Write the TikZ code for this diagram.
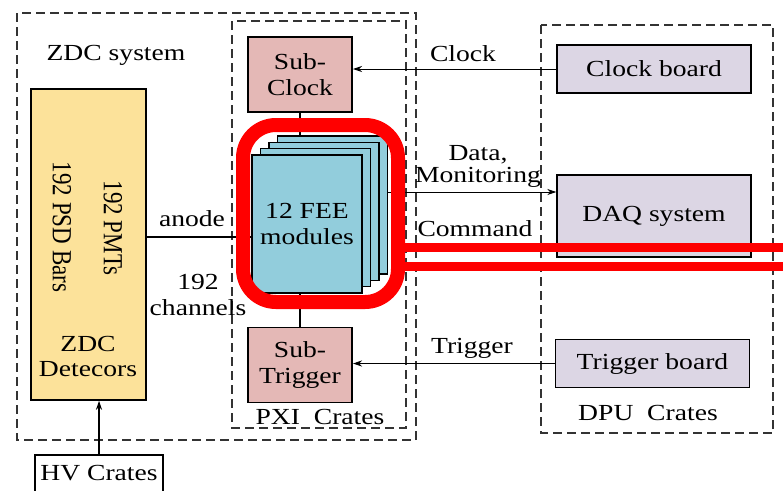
\documentclass[tikz,border=0pt]{standalone}
\usepackage{fontspec}
\setmainfont{Liberation Serif}
\usetikzlibrary{arrows.meta}

\definecolor{detyellow}{HTML}{FCE29A}
\definecolor{subpink}{HTML}{E4B8B6}
\definecolor{feecyan}{HTML}{92CDDC}
\definecolor{dpulilac}{HTML}{DCD6E4}
\definecolor{markred}{HTML}{FF0000}

\tikzstyle{group} = [draw=black!80, line width=1.2pt, dash pattern=on 9pt off 5pt]
\tikzstyle{block} = [rectangle, draw, line width=1.5pt, inner sep=0pt, align=center]
\tikzstyle{sub} = [block, fill=subpink, minimum width=86.7pt, minimum height=75pt]
\tikzstyle{board} = [block, fill=dpulilac, minimum width=161.7pt, minimum height=48pt]
\tikzstyle{fee} = [block, fill=feecyan, minimum width=91.7pt, minimum height=138pt]
\tikzstyle{wire} = [line width=1.2pt]
\tikzstyle{arrow} = [line width=1pt,->,>={Stealth[length=9pt,width=6pt]}]
\tikzstyle{redmark} = [draw=markred, line width=14pt, rounded corners=33pt]

\begin{document}
\begin{tikzpicture}[x={(0.83333pt,0pt)}, y={(0pt,-1pt)}, xscale=1.2,
  every node/.append style={transform shape}, font=\fontsize{23}{26}\selectfont]
\useasboundingbox (0,0) rectangle (783,490);

% crates
\draw [group] (17,13) rectangle (416,440);
\draw [group] (232,21) rectangle (406,428);
\draw [group] (541,25) rectangle (773,433);
\node (zdcsys) at (116,55) {ZDC system};
\node (pxi) at (320,417) {PXI\ \ Crates};
\node (dpu) at (648,413) {DPU\ \ Crates};

% detectors
\node (det) [block, fill=detyellow, minimum width=95.8pt, minimum height=311pt] at (88.5,244.5) {};
\node (psd) [rotate=-90] at (62,227) {192 PSD Bars};
\node (pmt) [rotate=-90] at (113,228) {192 PMTs};
\node (detname) [align=center, font=\fontsize{23}{25}\selectfont] at (88,356) {ZDC\\Detecors};
\node (hv) [block, line width=1.2pt, minimum width=106.7pt, minimum height=37pt] at (99,473.5) {HV Crates};

% FEE stack
\foreach \i in {3,2,1}
  \node (fee\i) [fee] at (307+8.5*\i,224-6.3*\i) {};
\node (fee) [fee] at (307,224) {12 FEE\\modules};

\node (subclk) [sub] at (300,74.5) {Sub-\\Clock};
\node (subtrg) [sub] at (300,365) {Sub-\\Trigger};

% DPU boards
\node (clkbrd) [board] at (654,69) {Clock board};
\node (daq) [board, minimum height=82pt] at (654,216) {DAQ system};
\node (trgbrd) [board] at (652.5,363.5) {Trigger board};

% links
\coordinate (datain) at ([yshift=24pt]daq.west);
\coordinate (anodeout) at ([yshift=7.5pt]det.east);
\draw [wire] (subclk.south) -- (subclk.south |- fee3.north);
\draw [wire] (subtrg.north) -- (subtrg.north |- fee.south);
\draw [arrow] (clkbrd.west) -- (clkbrd.west -| subclk.east);
\draw [arrow] (trgbrd.west) -- (trgbrd.west -| subtrg.east);
\draw [arrow] (datain -| fee3.east) -- (datain);
\draw [wire] (anodeout) -- (anodeout -| fee.west);
\draw [arrow, line width=1.8pt] (hv.north) -- (hv.north |- det.south);

\node (clklbl) at (463,54) {Clock};
\node (datalbl) [align=center, font=\fontsize{23}{22}\selectfont] at (478,166) {Data,\\Monitoring};
\node (cmdlbl) at (475,229) {Command};
\node (trglbl) at (472,348) {Trigger};
\node (anodelbl) at (192,219) {anode};
\node (chanlbl) [align=center] at (198,294.5) {192\\channels};

% highlight
\draw [redmark] (243,125) rectangle (398,302);
\draw [markred, line width=8.5pt] (398,247.5) -- (790,247.5);
\draw [markred, line width=9pt] (398,266.5) -- (790,266.5);
\end{tikzpicture}
\end{document}
